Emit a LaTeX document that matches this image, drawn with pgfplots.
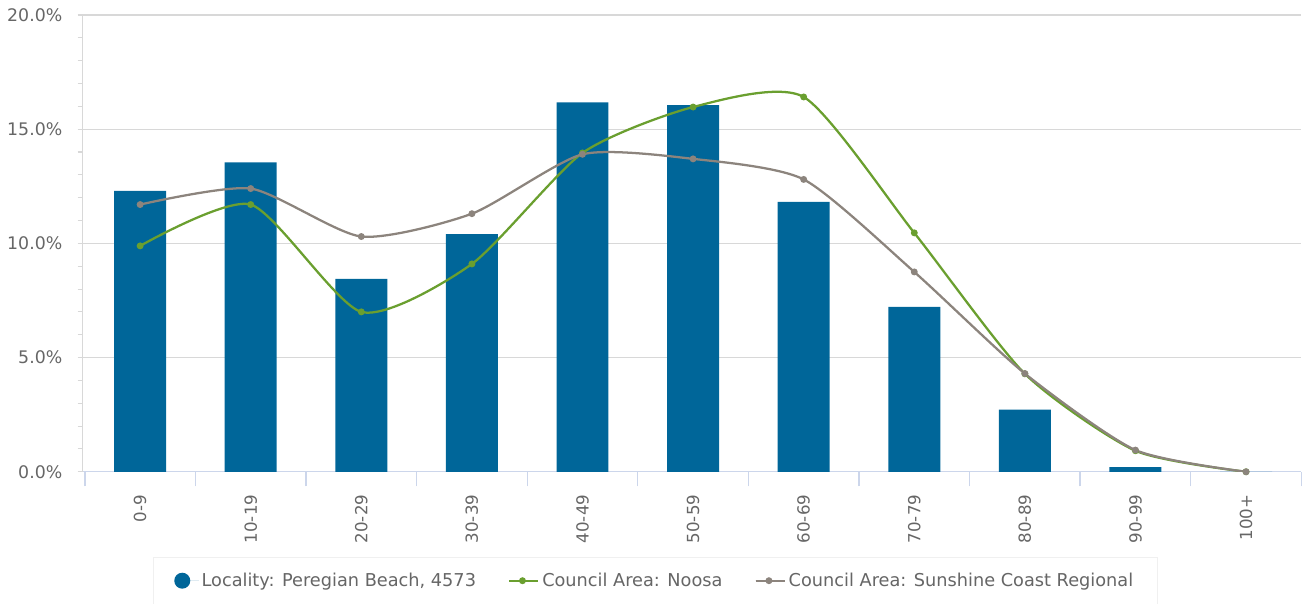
\documentclass[border=0pt]{standalone}
\usepackage{fontspec}
\setmainfont{DejaVu Sans}
\usepackage{pgfplots}
\pgfplotsset{compat=1.18}

\definecolor{barblue}{HTML}{006699}
\definecolor{noosa}{HTML}{6A9F2F}
\definecolor{sunshine}{HTML}{8C847D}
\definecolor{gridgray}{HTML}{D8D8D8}
\definecolor{xaxis}{HTML}{CCD6EB}
\definecolor{labelgray}{HTML}{666666}

\pgfplotsset{
    lineleg/.style={legend image code/.code={%
        \draw[mark repeat=2, mark phase=2, ##1] plot coordinates {(0pt,0pt) (10pt,0pt) (20pt,0pt)};
        \path (0pt,0pt) -- (22pt,0pt);}},
    dotleg/.style={legend image code/.code={%
        \fill[barblue] (5.5pt,0pt) circle (6pt);
        \path (0pt,0pt) -- (18pt,0pt);}},
}

\begin{document}
\begin{tikzpicture}
\path[use as bounding box] (-62pt,-99pt) rectangle (918pt,354pt);
\begin{axis}[
    at={(0,0)}, anchor=south west,
    scale only axis,
    width=914.5pt, height=342.75pt,
    xmin=-0.52, xmax=10.5,
    ymin=0, ymax=20,
    axis x line*=bottom,
    axis y line*=left,
    x axis line style={draw=xaxis, line width=0.8pt},
    y axis line style={draw=gridgray, line width=0.8pt},
    tick align=outside,
    xtick={0,...,10},
    xticklabels={0-9,10-19,20-29,30-39,40-49,50-59,60-69,70-79,80-89,90-99,100+},
    major x tick style={draw=none},
    extra x ticks={-0.5,0.5,1.5,2.5,3.5,4.5,5.5,6.5,7.5,8.5,9.5,10.5},
    extra x tick labels={},
    extra x tick style={major x tick style={draw=xaxis, line width=1pt}, major tick length=11pt, grid=none},
    xticklabel shift=10pt,
    xticklabel style={rotate=90, anchor=east, font=\fontsize{12.5}{15}\selectfont, text=labelgray},
    ytick={0,5,10,15,20},
    yticklabels={0.0\%,5.0\%,10.0\%,15.0\%,20.0\%},
    minor y tick num=4,
    major tick length=3.75pt,
    minor tick length=3.75pt,
    y tick style={draw=gridgray, line width=0.8pt},
    ymajorgrids,
    major grid style={draw=gridgray, line width=1pt},
    yticklabel style={font=\fontsize{13}{15}\selectfont, text=labelgray, xshift=-8pt},
    legend columns=3,
    legend style={at={(0.4697,-0.2385)}, anchor=center, draw=gray!12,
        font=\fontsize{13.3}{15}\selectfont, text=labelgray,
        inner xsep=16pt, inner ysep=10pt,
        /tikz/every even column/.append style={column sep=22pt}},
    legend cell align=left,
]
\addplot[ybar, bar width=39pt, fill=barblue, draw=none, dotleg]
    coordinates {(0,12.30) (1,13.55) (2,8.45) (3,10.40) (4,16.17) (5,16.05)
                 (6,11.82) (7,7.22) (8,2.72) (9,0.20) (10,0)};
\addlegendentry{Locality: Peregian Beach, 4573}

\addplot[smooth, tension=0.4, color=noosa, line width=1.7pt, mark=*, mark size=1.7pt, lineleg]
    coordinates {(0,9.89) (1,11.70) (2,7.00) (3,9.10) (4,13.96) (5,15.97)
                 (6,16.41) (7,10.46) (8,4.29) (9,0.92) (10,0)};
\addlegendentry{Council Area: Noosa}

\addplot[smooth, tension=0.4, color=sunshine, line width=1.7pt, mark=*, mark size=1.7pt, lineleg]
    coordinates {(0,11.70) (1,12.40) (2,10.30) (3,11.30) (4,13.90) (5,13.70)
                 (6,12.80) (7,8.75) (8,4.30) (9,0.95) (10,0)};
\addlegendentry{Council Area: Sunshine Coast Regional}
\end{axis}
\end{tikzpicture}
\end{document}
